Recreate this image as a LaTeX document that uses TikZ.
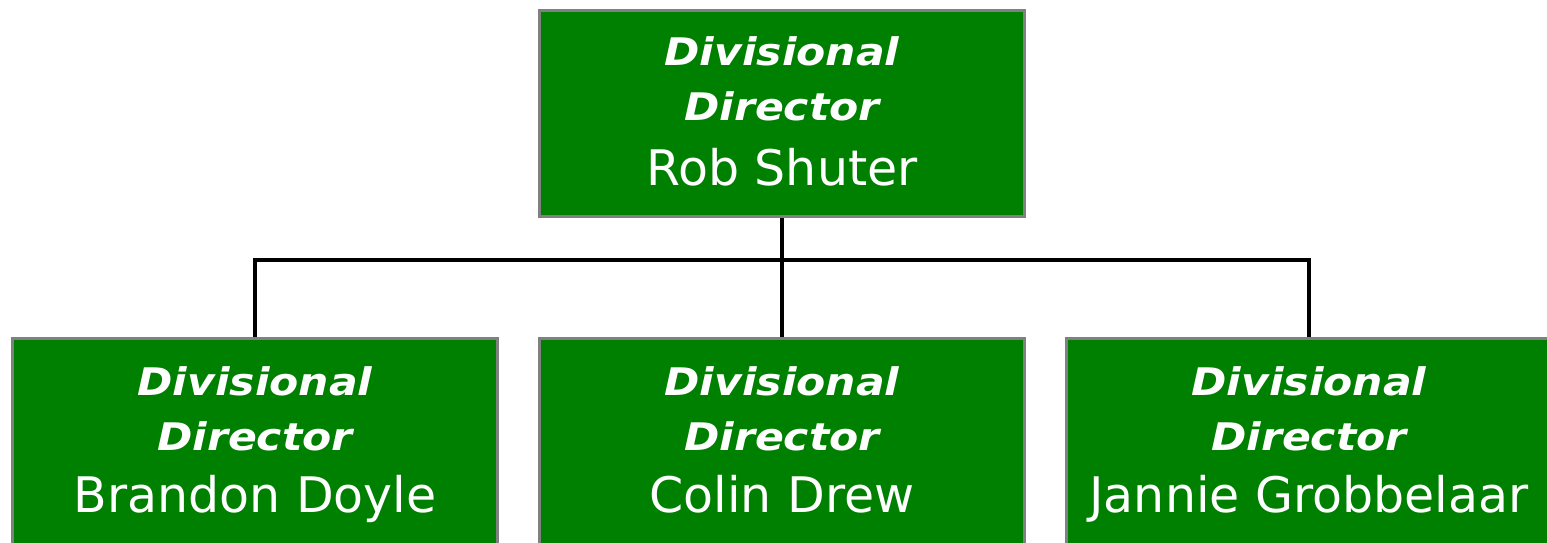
\documentclass[tikz,border=0pt]{standalone}
\usepackage{fontspec}
\setmainfont{DejaVu Sans}
\newfontfamily\rolefont[FakeStretch=1.12]{DejaVu Sans}
\usetikzlibrary{calc}
\definecolor{boxgreen}{RGB}{0,128,0}
\definecolor{boxedge}{RGB}{128,128,128}
\tikzset{
  orgbox/.style={draw=boxedge, line width=3pt, fill=boxgreen, inner sep=0pt,
    minimum width=485pt, minimum height=206pt, anchor=north west},
  role/.style={text=white, font=\rolefont\fontsize{38}{42}\selectfont\bfseries\itshape, anchor=base, inner sep=0pt},
  person/.style={text=white, font=\fontsize{49}{54}\selectfont, anchor=base, inner sep=0pt},
  link/.style={draw=black, line width=3.5pt}
}
\begin{document}
\begin{tikzpicture}[x={(1pt,0)}, y={(0,-1pt)}]
  \useasboundingbox (0,0) rectangle (1547,542);
  \clip (0,0) rectangle (1547,542);
  \fill[white] (0,0) rectangle (1547,542);

  % boxes
  \node[orgbox] (top) at (538,9) {};
  \node[orgbox, minimum height=240pt] (b1) at (11,337) {};
  \node[orgbox, minimum height=240pt] (b2) at (538,337) {};
  \node[orgbox, minimum height=240pt] (b3) at (1065,337) {};

  % connectors
  \coordinate (bus) at ($(top.south)+(0,42)$);
  \draw[link] (top.south) -- (bus);
  \draw[link] (bus) -| (b1.north);
  \draw[link] (bus) -| (b3.north);
  \draw[link] (bus) -- (b2.north);

  % texts
  \node[role]   (t1) at ($(top.north)+(0,56)$) {Divisional};
  \node[role]   (t2) at ($(top.north)+(0,111)$) {Director};
  \node[person] (t3) at ($(top.north)+(0,176)$) {Rob Shuter};

  \node[role]   (l1) at ($(b1.north)+(0,58)$) {Divisional};
  \node[role]   (l2) at ($(b1.north)+(0,113)$) {Director};
  \node[person] (l3) at ($(b1.north)+(0,175)$) {Brandon Doyle};

  \node[role]   (m1) at ($(b2.north)+(0,58)$) {Divisional};
  \node[role]   (m2) at ($(b2.north)+(0,113)$) {Director};
  \node[person] (m3) at ($(b2.north)+(0,175)$) {Colin Drew};

  \node[role]   (r1) at ($(b3.north)+(0,58)$) {Divisional};
  \node[role]   (r2) at ($(b3.north)+(0,113)$) {Director};
  \node[person] (r3) at ($(b3.north)+(0,175)$) {Jannie Grobbelaar};
\end{tikzpicture}
\end{document}
